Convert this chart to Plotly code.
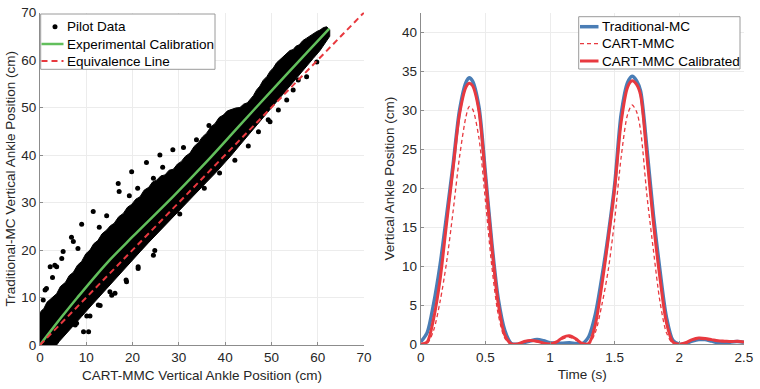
import plotly.graph_objects as go

# ---------------- Left panel data ----------------
band_upper_x = [0, 0, 0.5, 0.8, 1.5, 2.4, 3.6, 4.4, 5.5, 6.3, 7.2, 8.1, 9, 9.9, 10.8, 11.6, 12.5, 13.4, 14.4,
                15.2, 16, 17, 18, 18.9, 19.8, 20.7, 21.6, 22.5, 23.5, 24.3, 25.2, 26.1, 27, 27.9, 28.8, 29.7,
                30.5, 31.4, 32.4, 33.3, 34.2, 35.1, 36, 36.9, 37.8, 38.7, 39.6, 40.5, 41.5, 42.3, 43.2, 44,
                44.8, 45.5, 46.1, 46.8, 47.5, 48.2, 49, 49.7, 50.4, 51.1, 51.8, 52.5, 53.2, 54, 54.7, 55.3,
                56, 56.8, 57.6, 58.3, 59, 59.8, 60.5, 61.2, 61.9, 62.6]
band_upper_y = [0, 6.8, 7.4, 7.6, 9.0, 9.8, 10.8, 12.3, 13.2, 14.6, 15.3, 16.8, 17.6, 19.2, 20, 21.3, 22, 23.4, 24.2,
                25.1, 25.6, 27.0, 27.7, 29.0, 29.6, 30.7, 31.2, 32.6, 33.2, 34.3, 34.7, 35.6, 35.8, 36.8, 37,
                38.1, 38.6, 39.7, 40.4, 41.8, 42.6, 43.8, 44.6, 45.9, 46.6, 47.9, 48.4, 49.3, 49.6, 49.9, 50,
                50.7, 51, 51.9, 52.5, 53.7, 54.5, 55.7, 56.5, 57.6, 58.3, 59.4, 60, 60.8, 61.2, 62.0, 62.2,
                62.9, 63.2, 64.1, 64.6, 65.1, 65.5, 66.0, 66.3, 66.8, 67, 66.4]
band_lower_x = [62.6, 61.5, 60.5, 59, 57.6, 56, 54, 52, 50.4, 48.6, 46.8, 45, 43.2, 41.4, 39.6, 37.8, 36, 34.2,
                32.4, 30.6, 28.8, 27, 25.2, 23.4, 21.6, 19.8, 18, 16.2, 14.4, 12.6, 10.8, 9, 7.2, 5.4, 4.2,
                3.6, 0]
band_lower_y = [65, 63.5, 62, 60.3, 58.7, 56.8, 54.5, 52.3, 50.5, 48.5, 46.3, 44.2, 42.1, 40, 38, 36.1, 34.3, 32.5,
                30.7, 28.9, 27.1, 25.3, 23.4, 21.5, 19.6, 17.7, 15.8, 13.9, 12, 10, 8, 6, 4.1, 2.2, 0.8,
                0, 0]

outlier_x = [0.7, 1.1, 1.4, 2.7, 3.2, 3.6, 4.7, 5, 6.8, 7.2, 9, 11.5, 14.4, 16.9, 17.1, 19.3, 19.8, 21.1, 23,
             24.5, 25.9, 28.7, 31, 33.8, 2.2, 8.2, 12.8, 26.5, 36.5,
             4.3, 7.6, 7.9, 9.4, 10.5, 10.1, 10.8, 12.6, 13, 15.1, 15.5, 16.2, 18.6, 18.7, 21.2, 21.2, 24.5,
             24.8, 42.1, 45, 47.2, 49.3, 49.7, 51.5, 53.3, 54.7, 55.8, 57.6, 59.8, 30.2, 35.5, 38.8]
outlier_y = [9.5, 11.6, 11.9, 14.2, 16.8, 16.5, 18.2, 19.7, 22.7, 21.8, 25.4, 28.1, 27.2, 34, 32.3, 31.4, 36.5, 33,
             38.4, 35.1, 40, 41.1, 41.6, 43.2, 16.5, 20.3, 24.8, 37.4, 46.2,
             3.2, 4.2, 4.6, 2.8, 2.8, 6.1, 6.1, 8.4, 8.3, 11.2, 10.5, 10.9, 13.7, 13.3, 16.1, 16.5, 18.9,
             19.9, 38.9, 41.9, 44.9, 47.4, 47, 49.5, 51.6, 53.7, 55.8, 56.5, 59.6, 27.6, 33.0, 36.2]

calib_x = [0, 1, 2.5, 5, 8, 14.4, 20, 28.8, 36, 43.2, 50, 57.6, 62.5]
calib_y = [0, 1.3, 3.2, 6.3, 9.9, 17.2, 22.8, 31.3, 38.6, 46.3, 53.5, 61.5, 66.6]

equiv_x = [0, 70]
equiv_y = [0, 70]

left_ticks = [0, 10, 20, 30, 40, 50, 60, 70]
left_legend_labels = ["Pilot Data", "Experimental Calibration", "Equivalence Line"]

# ---------------- Right panel data ----------------
time_s = [0, 0.05, 0.1, 0.15, 0.2, 0.25, 0.3, 0.35, 0.375, 0.4, 0.45, 0.5, 0.55, 0.6, 0.65, 0.7, 0.75, 0.8,
          0.85, 0.9, 0.95, 1.0, 1.05, 1.1, 1.15, 1.2, 1.25, 1.3, 1.35, 1.4, 1.45, 1.5, 1.55, 1.6, 1.635, 1.67,
          1.7, 1.75, 1.8, 1.85, 1.9, 1.95, 2.0, 2.05, 2.1, 2.15, 2.2, 2.25, 2.3, 2.35, 2.4, 2.45, 2.5]
traditional_mc = [0.3, 1.5, 5.2, 10.2, 16.5, 23, 30, 33.6, 34.2, 33.8, 30.5, 22, 13, 5.8, 1.8, 0.1, 0, 0.2,
                  0.45, 0.6, 0.45, 0.2, 0.15, 0.15, 0.2, 0.1, 0.1, 1.0, 3.8, 8.5, 14, 20.5, 29.5, 33.6, 34.4, 33.8,
                  32.5, 25, 16.5, 9.5, 3.5, 0.5, 0, 0.1, 0.4, 0.6, 0.6, 0.4, 0.15, 0.1, 0.3, 0.35, 0.25]
cart_mmc = [0, 0.1, 1.8, 5.5, 10.5, 17, 24, 29.2, 30.5, 30.2, 26.5, 18.5, 10, 3.8, 0.8, 0, 0, 0.25,
            0.4, 0.3, 0.1, 0, 0.2, 0.7, 0.9, 0.55, 0.05, 0.05, 1.5, 5.0, 9.5, 16, 24, 29.5, 30.7, 29.8,
            27.5, 19, 12, 5.5, 1.5, 0.1, 0, 0.1, 0.5, 0.65, 0.6, 0.5, 0.35, 0.3, 0.3, 0.3, 0.25]
cart_mmc_cal = [0, 0.3, 3.3, 8.3, 15.5, 22.5, 29.5, 33, 33.5, 33.2, 30, 21.5, 12.5, 5.2, 1.2, 0.05, 0.05, 0.35,
                0.5, 0.4, 0.15, 0.05, 0.3, 0.9, 1.1, 0.7, 0.1, 0.1, 2.5, 7.5, 13.5, 20, 28.5, 33, 33.8, 33.3,
                32, 24, 15.5, 8.5, 2.8, 0.3, 0, 0.2, 0.6, 0.8, 0.75, 0.6, 0.45, 0.4, 0.35, 0.4, 0.3]

right_xticks = [0, 0.5, 1, 1.5, 2, 2.5]
right_xticklabels = ["0", "0.5", "1", "1.5", "2", "2.5"]
right_yticks = [0, 5, 10, 15, 20, 25, 30, 35, 40]
right_legend_labels = ["Traditional-MC", "CART-MMC", "CART-MMC Calibrated"]

# ---------------- Styles ----------------
FONT = "Liberation Sans, Arial, sans-serif"
FS = 13.5
TXT = "#262626"
AXC = "#8c8c8c"
GRID = "#ececec"
BLUE = "#4a7db5"
RED = "#e8393f"
GREEN = "#62bf5c"
W, H = 760, 389


def px(x):
    return x / W


def py(y):
    return 1 - y / H


fig = go.Figure()

band_x = band_upper_x + band_lower_x
band_y = band_upper_y + band_lower_y
fig.add_trace(go.Scatter(x=band_x, y=band_y, mode="lines", fill="toself", fillcolor="black",
                         line=dict(color="black", width=1), showlegend=False, hoverinfo="skip",
                         xaxis="x", yaxis="y"))
fig.add_trace(go.Scatter(x=outlier_x, y=outlier_y, mode="markers", name=left_legend_labels[0],
                         marker=dict(color="black", size=5), xaxis="x", yaxis="y", showlegend=False))
fig.add_trace(go.Scatter(x=calib_x, y=calib_y, mode="lines", name=left_legend_labels[1],
                         line=dict(color=GREEN, width=2.5, shape="spline"), xaxis="x", yaxis="y",
                         showlegend=False))
fig.add_trace(go.Scatter(x=equiv_x, y=equiv_y, mode="lines", name=left_legend_labels[2],
                         line=dict(color=RED, width=2, dash="6px,4px"), xaxis="x", yaxis="y",
                         showlegend=False))

fig.add_trace(go.Scatter(x=time_s, y=traditional_mc, mode="lines", name=right_legend_labels[0],
                         line=dict(color=BLUE, width=3.5, shape="spline", smoothing=0.8),
                         xaxis="x2", yaxis="y2", showlegend=False))
fig.add_trace(go.Scatter(x=time_s, y=cart_mmc, mode="lines", name=right_legend_labels[1],
                         line=dict(color=RED, width=1.3, dash="4px,3px", shape="spline", smoothing=0.8),
                         xaxis="x2", yaxis="y2", showlegend=False))
fig.add_trace(go.Scatter(x=time_s, y=cart_mmc_cal, mode="lines", name=right_legend_labels[2],
                         line=dict(color=RED, width=3, shape="spline", smoothing=0.8),
                         xaxis="x2", yaxis="y2", showlegend=False))

axis_common = dict(showgrid=True, gridcolor=GRID, gridwidth=1, zeroline=False, showline=True,
                   linecolor=AXC, linewidth=1, mirror=False, ticks="inside", ticklen=3, tickcolor=AXC,
                   tickfont=dict(family=FONT, size=FS, color=TXT), automargin=False)
tfont = dict(family=FONT, size=FS, color=TXT)

# ---------------- Legends (drawn as boxes + samples + text) ----------------
shapes = []
annotations = []
# left legend
shapes.append(dict(type="rect", xref="paper", yref="paper", x0=px(40.7), x1=px(215), y0=py(69.3), y1=py(14),
                   fillcolor="white", line=dict(color="#9a9a9a", width=1), layer="above"))
lrow = [26.7, 44, 61]
shapes.append(dict(type="circle", xref="paper", yref="paper", x0=px(52.5), x1=px(57.5), y0=py(lrow[0] + 2.5),
                   y1=py(lrow[0] - 2.5), fillcolor="black", line=dict(color="black", width=0), layer="above"))
shapes.append(dict(type="line", xref="paper", yref="paper", x0=px(41.5), x1=px(63.5), y0=py(lrow[1]),
                   y1=py(lrow[1]), line=dict(color=GREEN, width=2.5), layer="above"))
shapes.append(dict(type="line", xref="paper", yref="paper", x0=px(41.5), x1=px(63.5), y0=py(lrow[2]),
                   y1=py(lrow[2]), line=dict(color=RED, width=2, dash="6px,4px"), layer="above"))
for lab, yy in zip(left_legend_labels, lrow):
    annotations.append(dict(xref="paper", yref="paper", x=px(65), y=py(yy), xanchor="left", yanchor="middle",
                            text=lab, showarrow=False, font=dict(family=FONT, size=FS, color="black")))
# right legend
shapes.append(dict(type="rect", xref="paper", yref="paper", x0=px(578.7), x1=px(740), y0=py(69), y1=py(16.7),
                   fillcolor="white", line=dict(color="#9a9a9a", width=1), layer="above"))
rrow = [26.7, 43.6, 61]
shapes.append(dict(type="line", xref="paper", yref="paper", x0=px(580), x1=px(598.5), y0=py(rrow[0]),
                   y1=py(rrow[0]), line=dict(color=BLUE, width=3.5), layer="above"))
shapes.append(dict(type="line", xref="paper", yref="paper", x0=px(580), x1=px(598.5), y0=py(rrow[1]),
                   y1=py(rrow[1]), line=dict(color=RED, width=1.3, dash="4px,3px"), layer="above"))
shapes.append(dict(type="line", xref="paper", yref="paper", x0=px(580), x1=px(598.5), y0=py(rrow[2]),
                   y1=py(rrow[2]), line=dict(color=RED, width=3), layer="above"))
for lab, yy in zip(right_legend_labels, rrow):
    annotations.append(dict(xref="paper", yref="paper", x=px(599.5), y=py(yy), xanchor="left", yanchor="middle",
                            text=lab, showarrow=False, font=dict(family=FONT, size=FS, color="black")))

fig.update_layout(
    width=W, height=H, margin=dict(l=0, r=0, t=0, b=0),
    paper_bgcolor="white", plot_bgcolor="white",
    font=dict(family=FONT, size=FS, color=TXT),
    showlegend=False,
    xaxis=dict(domain=[px(40), px(364)], range=[0, 70], tickvals=left_ticks, anchor="y",
               title=dict(text="CART-MMC Vertical Ankle Position (cm)", standoff=6, font=tfont), **axis_common),
    yaxis=dict(domain=[py(345), py(12.5)], range=[0, 70], tickvals=left_ticks, anchor="x",
               title=dict(text="Traditional-MC Vertical Ankle Position (cm)", standoff=2, font=tfont),
               **axis_common),
    xaxis2=dict(domain=[px(420.7), px(744)], range=[0, 2.5], tickvals=right_xticks,
                ticktext=right_xticklabels, anchor="y2",
                title=dict(text="Time (s)", standoff=6, font=tfont), **axis_common),
    yaxis2=dict(domain=[py(344.3), py(13)], range=[0, 42.5], tickvals=right_yticks, anchor="x2",
                title=dict(text="Vertical Ankle Position (cm)", standoff=4, font=tfont), **axis_common),
    shapes=shapes,
    annotations=annotations,
)

fig.write_html("out.html")
